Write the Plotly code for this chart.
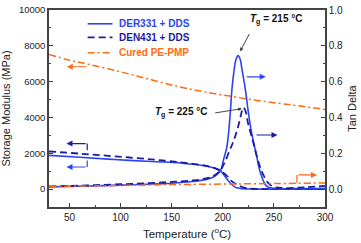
import plotly.graph_objects as go

# ---------------- data ----------------
# Storage modulus (MPa), left axis
der_mod_T = [30, 60, 94, 130, 157, 165, 172, 180, 190, 197, 202, 207, 212, 217, 222, 230, 260, 300]
der_mod_M = [1880, 1780, 1650, 1540, 1470, 1415, 1378, 1320, 1200, 1060, 720, 360, 110, 37, 10, 0, 0, 0]

den_mod_T = [30, 60, 94, 130, 158, 175, 185, 192, 198, 204, 209, 214, 219, 225, 235, 260, 300]
den_mod_M = [2100, 1980, 1830, 1660, 1500, 1380, 1280, 1170, 1000, 740, 430, 250, 110, 40, 12, 0, 0]

pe_mod_T = [30, 50, 70, 100, 130, 157, 180, 209, 240, 270, 300]
pe_mod_M = [7520, 7200, 6950, 6550, 6100, 5720, 5450, 5170, 4900, 4680, 4450]

# Tan delta, right axis
der_tan_T = [30, 50, 75, 100, 125, 150, 170, 180, 190, 195, 198, 201, 204, 207, 209, 211, 213, 215, 217,
             219, 222, 225, 228, 231, 233, 235, 238, 241, 244, 250, 275, 300]
der_tan_V = [0.012, 0.015, 0.018, 0.022, 0.027, 0.033, 0.042, 0.05, 0.065, 0.085, 0.105, 0.17, 0.235, 0.40,
             0.56, 0.66, 0.725, 0.745, 0.725, 0.66, 0.56, 0.43, 0.32, 0.24, 0.19, 0.13, 0.07, 0.03, 0.012,
             0.004, 0.003, 0.005]

den_tan_T = [30, 50, 75, 100, 125, 150, 170, 180, 190, 197, 202, 207, 210, 213, 216, 218, 220, 222, 225,
             229, 232, 235, 238, 241, 245, 250, 260, 280, 300]
den_tan_V = [0.015, 0.018, 0.022, 0.027, 0.033, 0.04, 0.048, 0.055, 0.07, 0.10, 0.15, 0.22, 0.26, 0.31,
             0.37, 0.42, 0.455, 0.44, 0.36, 0.28, 0.21, 0.15, 0.10, 0.065, 0.03, 0.012, 0.006, 0.01, 0.018]

pe_tan_T = [30, 100, 150, 200, 250, 300]
pe_tan_V = [0.015, 0.02, 0.025, 0.028, 0.031, 0.034]

x_ticks = [50, 100, 150, 200, 250, 300]
y1_ticks = [0, 2000, 4000, 6000, 8000, 10000]
y1_labels = ["0", "2000", "4000", "6000", "8000", "10000"]
y2_ticks = [0.0, 0.2, 0.4, 0.6, 0.8, 1.0]

series_names = ["DER331 + DDS", "DEN431 + DDS", "Cured PE-PMP"]

BLUE = "#2b45f5"
NAVY = "#1c1ca0"
ORANGE = "#ff6a13"
AXC = "#444444"
FONT = "Liberation Sans, Arial, sans-serif"

S_DER = dict(color=BLUE, width=1.6)
S_DEN = dict(color=NAVY, width=1.8, dash="7px,4px")
S_PE = dict(color=ORANGE, width=1.5, dash="7px,3px,2px,3px")
styles = [S_DER, S_DEN, S_PE]
colors = [BLUE, NAVY, ORANGE]

fig = go.Figure()

fig.add_trace(go.Scatter(x=der_mod_T, y=der_mod_M, mode="lines", line=S_DER, name=series_names[0],
                         line_shape="spline", showlegend=False))
fig.add_trace(go.Scatter(x=den_mod_T, y=den_mod_M, mode="lines", line=S_DEN, name=series_names[1],
                         line_shape="spline", showlegend=False))
fig.add_trace(go.Scatter(x=pe_mod_T, y=pe_mod_M, mode="lines", line=S_PE, name=series_names[2],
                         line_shape="spline", showlegend=False))
fig.add_trace(go.Scatter(x=der_tan_T, y=der_tan_V, mode="lines", line=S_DER, name=series_names[0],
                         yaxis="y2", showlegend=False, line_shape="spline"))
fig.add_trace(go.Scatter(x=den_tan_T, y=den_tan_V, mode="lines", line=S_DEN, name=series_names[1],
                         yaxis="y2", showlegend=False, line_shape="spline"))
fig.add_trace(go.Scatter(x=pe_tan_T, y=pe_tan_V, mode="lines", line=S_PE, name=series_names[2],
                         yaxis="y2", showlegend=False, line_shape="spline"))

annotations = []
shapes = []

# ---- legend (drawn in paper coordinates) ----
leg_rows = [0.930, 0.861, 0.783]
for name, st, col, yy in zip(series_names, styles, colors, leg_rows):
    shapes.append(dict(type="line", xref="paper", yref="paper", x0=0.140, x1=0.230, y0=yy, y1=yy,
                       line=st))
    annotations.append(dict(x=0.246, y=yy, xref="paper", yref="paper", xanchor="left", yanchor="middle",
                            showarrow=False, text=f"<b>{name}</b>",
                            font=dict(family=FONT, size=10, color=col)))


def arrow(x, y, ax, ay, color, yref="y2", width=1.2, size=1.0):
    annotations.append(dict(x=x, y=y, ax=ax, ay=ay, xref="x", yref=yref, axref="x", ayref=yref,
                            text="", showarrow=True, arrowhead=2, arrowsize=size, arrowwidth=width,
                            arrowcolor=color))

# direction arrows
arrow(242, 0.627, 222, 0.627, BLUE)
arrow(253.5, 0.302, 231.6, 0.302, NAVY)
arrow(47.4, 6830, 68.1, 6830, ORANGE, yref="y")
arrow(47.1, 2540, 67.4, 2540, NAVY, yref="y")
arrow(47.1, 1233, 67.4, 1233, BLUE, yref="y")
arrow(292.2, 0.079, 272.5, 0.079, ORANGE)

shapes += [
    dict(type="line", xref="x", yref="y", x0=67.4, x1=67.4, y0=2540, y1=2170, line=dict(color=NAVY, width=1.2)),
    dict(type="line", xref="x", yref="y", x0=67.4, x1=67.4, y0=1233, y1=1590, line=dict(color=BLUE, width=1.2)),
    dict(type="line", xref="x", yref="y2", x0=272.5, x1=272.5, y0=0.079, y1=0.036, line=dict(color=ORANGE, width=1.2)),
]

# Tg labels
annotations.append(dict(x=217, y=0.769, ax=226.7, ay=0.874, xref="x", yref="y2", axref="x", ayref="y2",
                        text="", showarrow=True, arrowhead=2, arrowsize=0.8, arrowwidth=0.9, arrowcolor="#333333"))
annotations.append(dict(x=218.6, y=0.449, ax=191.1, ay=0.424, xref="x", yref="y2", axref="x", ayref="y2",
                        text="", showarrow=True, arrowhead=2, arrowsize=0.8, arrowwidth=0.9, arrowcolor="#333333"))
annotations.append(dict(x=252, y=0.946, xref="x", yref="y2", showarrow=False,
                        text="<b><i>T</i><sub>g</sub> = 215 °C</b>",
                        font=dict(family=FONT, size=10, color="#111111")))
annotations.append(dict(x=159.5, y=0.428, xref="x", yref="y2", showarrow=False,
                        text="<b><i>T</i><sub>g</sub> = 225 °C</b>",
                        font=dict(family=FONT, size=10, color="#111111")))

fig.update_layout(
    width=361, height=243, autosize=False,
    margin=dict(l=49, r=34, t=4, b=35),
    paper_bgcolor="white", plot_bgcolor="white",
    font=dict(family=FONT, size=10, color="#222222"),
    showlegend=False,
    xaxis=dict(range=[30, 300], tickvals=x_ticks, ticks="inside", ticklen=4, tickwidth=1,
               tickcolor=AXC, showline=True, linecolor=AXC, linewidth=1.5, mirror=True,
               showgrid=False, zeroline=False,
               minor=dict(dtick=25, tick0=0, ticks="inside", ticklen=2.5, tickcolor=AXC, showgrid=False),
               title=dict(text="Temperature (<sup>o</sup>C)", font=dict(size=11.5), standoff=8),
               tickfont=dict(size=10)),
    yaxis=dict(range=[-1000, 10000], tickvals=y1_ticks, ticktext=y1_labels, ticks="inside", ticklen=4,
               tickwidth=1, tickcolor=AXC, showline=True, linecolor=AXC, linewidth=1.5,
               showgrid=False, zeroline=False,
               minor=dict(dtick=1000, tick0=0, ticks="inside", ticklen=2.5, tickcolor=AXC, showgrid=False),
               title=dict(text="Storage Modulus (MPa)", font=dict(size=11), standoff=6),
               tickfont=dict(size=9.5)),
    yaxis2=dict(range=[-0.1, 1.0], tickvals=y2_ticks, tickformat=".1f", overlaying="y", side="right",
                ticks="inside", ticklen=4, tickwidth=1, tickcolor=AXC, showline=True, linecolor=AXC,
                linewidth=1.5, showgrid=False, zeroline=False,
                minor=dict(dtick=0.1, tick0=0, ticks="inside", ticklen=2.5, tickcolor=AXC, showgrid=False),
                title=dict(text="Tan Delta", font=dict(size=11), standoff=6),
                tickfont=dict(size=10)),
    annotations=annotations,
    shapes=shapes,
)

fig.write_html("out.html", config={"displayModeBar": False},
               post_script="document.body.style.margin='0';document.body.style.padding='0';")
